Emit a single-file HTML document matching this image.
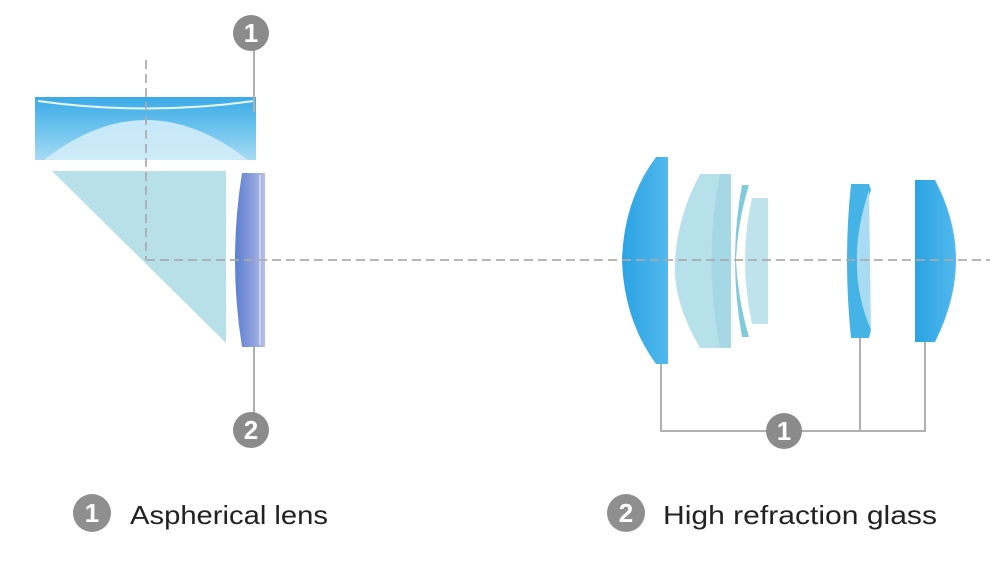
<!DOCTYPE html>
<html><head><meta charset="utf-8"><style>
html,body{margin:0;padding:0;background:#fff;width:1000px;height:578px;overflow:hidden}
</style></head><body>
<svg width="1000" height="578" viewBox="0 0 1000 578" xmlns="http://www.w3.org/2000/svg">
<defs>
<linearGradient id="top" x1="0" y1="0" x2="0" y2="1">
<stop offset="0" stop-color="#3aaae6"/><stop offset="0.5" stop-color="#6cc3ee"/><stop offset="1" stop-color="#a8dbf3"/>
</linearGradient>
<linearGradient id="purp" x1="0" y1="0" x2="1" y2="0">
<stop offset="0" stop-color="#5b7fd2"/><stop offset="0.6" stop-color="#8da0dc"/><stop offset="1" stop-color="#b6c0e8"/>
</linearGradient>
<linearGradient id="blue" x1="0" y1="0" x2="1" y2="0">
<stop offset="0" stop-color="#2aa3e4"/><stop offset="1" stop-color="#52b8ec"/>
</linearGradient>
</defs>
<!-- top lens -->
<path d="M35 97 L256 97 L256 160 L35 160 Z" fill="url(#top)"/>
<path d="M44 160 Q146 80 248 160 Z" fill="#d2ecf8" opacity="0.9"/>
<path d="M38 101 Q146 116 254 101" stroke="#e8f6fd" stroke-width="2" fill="none"/>
<!-- prism -->
<polygon points="52,171 226,171 226,343" fill="#b8e0e9"/>
<!-- purple lens -->
<path d="M242 173 L265 173 L265 347 L242 347 Q228 260 242 173 Z" fill="url(#purp)"/>
<line x1="260" y1="175" x2="260" y2="345" stroke="#d8def4" stroke-width="1.5"/>
<!-- right lenses -->
<path d="M656 157 L668 157 L668 364 L656 364 Q624 320 622 260 Q624 200 656 157 Z" fill="url(#blue)"/>
<path d="M700 174 L720 174 L720 348 L700 348 Q672 300 675 260 Q678 215 700 174 Z" fill="#b6e0ea"/>
<path d="M720 174 L731 174 L731 348 L720 348 Q703 260 720 174 Z" fill="#a5d8e4"/>
<path d="M742 185 L749 185 Q738 220 736 260 Q738 300 749 337 L742 337 Q728 260 742 185 Z" fill="#7fcadb"/>
<path d="M752 198 L768 198 L768 324 L752 324 Q738 260 752 198 Z" fill="#bfe3ec"/>
<path d="M851 184 L869 184 L871 190 Q856 230 857 260 Q858 295 871 330 L869 338 L851 338 Q843 260 851 184 Z" fill="#45b3e6"/>
<path d="M869 190 L871 330 Q856 295 857 260 Q856 230 869 190 Z" fill="#a9dbf2"/>
<path d="M915 180 L935 180 Q956 220 956 260 Q956 300 935 342 L915 342 Z" fill="url(#blue)"/>
<!-- dashed axes on top -->
<g stroke="#aaa" stroke-width="2" fill="none" opacity="0.85">
<line x1="146" y1="60" x2="146" y2="260" stroke-dasharray="9,5"/>
<line x1="146" y1="260" x2="990" y2="260" stroke-dasharray="9,5"/>
</g>
<!-- connectors -->
<g stroke="#b0b0b0" stroke-width="2" fill="none">
<line x1="254" y1="48" x2="254" y2="112"/>
<line x1="254" y1="347" x2="254" y2="414"/>
<polyline points="661,364 661,431 925,431 925,342"/>
<line x1="860" y1="338" x2="860" y2="431"/>
</g>
<!-- numbered circles -->
<g font-family="Liberation Sans, sans-serif" font-weight="bold" font-size="26" fill="#fff" text-anchor="middle">
<circle cx="251" cy="33" r="18" fill="#8b8b8b"/><text x="251" y="42">1</text>
<circle cx="251" cy="430" r="18" fill="#8b8b8b"/><text x="251" y="439">2</text>
<circle cx="784" cy="431" r="18" fill="#8b8b8b"/><text x="784" y="440">1</text>
<circle cx="92" cy="513" r="19" fill="#8f8f8f"/><text x="92" y="522">1</text>
<circle cx="626" cy="513" r="19" fill="#8f8f8f"/><text x="626" y="522">2</text>
</g>
<g font-family="Liberation Sans, sans-serif" font-size="26" fill="#222">
<text x="130" y="524" textLength="198" lengthAdjust="spacingAndGlyphs">Aspherical lens</text>
<text x="663" y="524" textLength="274" lengthAdjust="spacingAndGlyphs">High refraction glass</text>
</g>
</svg>
</body></html>
